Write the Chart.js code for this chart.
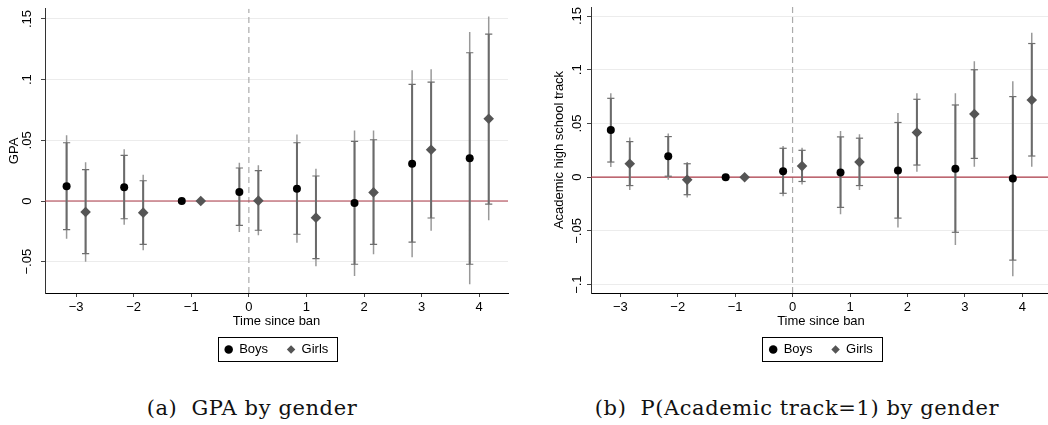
<!DOCTYPE html>
<html>
<head>
<meta charset="utf-8">
<script src="https://cdn.jsdelivr.net/npm/chart.js@4.4.1/dist/chart.umd.min.js"></script>
<style>
  html, body { margin: 0; padding: 0; background: #fff; }
  body { width: 1048px; height: 425px; overflow: hidden; position: relative; }
  canvas { position: absolute; top: 0; }
  #gpaChart { left: 0; }
  #acadChart { left: 524px; }
  .caption {
    position: absolute; top: 394px; line-height: 28px;
    font-family: "DejaVu Serif", "Liberation Serif", serif; font-size: 21px;
    letter-spacing: 0.6px; color: #111; white-space: nowrap; text-align: center;
  }
  .caption .tag { margin-right: 14px; }
</style>
</head>
<body>
<canvas id="gpaChart" width="524" height="366"></canvas>
<canvas id="acadChart" width="540" height="366"></canvas>
<div class="caption" style="left:122px;width:260px"><span class="tag">(a)</span>GPA by gender</div>
<div class="caption" style="left:570px;width:454px"><span class="tag">(b)</span>P(Academic track=1) by gender</div>

<script>
// periods relative to the ban, and the tick labels on both axes
const periods = [-3, -2, -1, 0, 1, 2, 3, 4]
const xTickValues = [-3, -2, -1, 0, 1, 2, 3, 4]
const xTickLabels = ["\u22123", "\u22122", "\u22121", "0", "1", "2", "3", "4"]
const gpaTickValues = [-0.05, 0, 0.05, 0.1, 0.15]
const gpaTickLabels = ["\u2212.05", "0", ".05", ".1", ".15"]
const acadTickValues = [-0.1, -0.05, 0, 0.05, 0.1, 0.15]
const acadTickLabels = ["\u2212.1", "\u2212.05", "0", ".05", ".1", ".15"]

// (a) GPA: point estimates, 90% bounds (with caps) and 95% bounds
const gpaBoys      = [0.0121, 0.0113, 0, 0.0074, 0.0101, -0.0016, 0.0307, 0.0352]
const gpaBoysLo90  = [-0.0236, -0.0146, null, -0.0200, -0.0274, -0.0521, -0.0338, -0.0521]
const gpaBoysHi90  = [0.0480, 0.0376, null, 0.0272, 0.0480, 0.0492, 0.0961, 0.1222]
const gpaBoysLo95  = [-0.0310, -0.0195, null, -0.0255, -0.0343, -0.0618, -0.0464, -0.0686]
const gpaBoysHi95  = [0.0541, 0.0426, null, 0.0316, 0.0549, 0.0582, 0.1077, 0.1392]
const gpaGirls     = [-0.0091, -0.0096, 0, 0.0003, -0.0137, 0.0071, 0.0423, 0.0678]
const gpaGirlsLo90 = [-0.0434, -0.0357, null, -0.0241, -0.0475, -0.0357, -0.0140, -0.0025]
const gpaGirlsHi90 = [0.0258, 0.0167, null, 0.0250, 0.0206, 0.0505, 0.0980, 0.1376]
const gpaGirlsLo95 = [-0.0500, -0.0406, null, -0.0283, -0.0538, -0.0439, -0.0245, -0.0159]
const gpaGirlsHi95 = [0.0320, 0.0217, null, 0.0294, 0.0266, 0.0582, 0.1085, 0.1520]

// (b) academic high school track
const acadBoys      = [0.0438, 0.0194, 0, 0.0056, 0.0044, 0.0063, 0.0078, -0.0012]
const acadBoysLo90  = [0.0141, 0.0009, null, -0.0150, -0.0281, -0.0381, -0.0513, -0.0772]
const acadBoysHi90  = [0.0734, 0.0378, null, 0.0269, 0.0375, 0.0509, 0.0672, 0.0750]
const acadBoysLo95  = [0.0094, -0.0025, null, -0.0178, -0.0344, -0.0469, -0.0631, -0.0922]
const acadBoysHi95  = [0.0781, 0.0406, null, 0.0290, 0.0431, 0.0597, 0.0781, 0.0894]
const acadGirls     = [0.0125, -0.0025, 0, 0.0103, 0.0141, 0.0416, 0.0588, 0.0719]
const acadGirlsLo90 = [-0.0078, -0.0163, null, -0.0040, -0.0078, 0.0113, 0.0175, 0.0197]
const acadGirlsHi90 = [0.0331, 0.0125, null, 0.0250, 0.0363, 0.0725, 0.1000, 0.1244]
const acadGirlsLo95 = [-0.0119, -0.0188, null, -0.0069, -0.0119, 0.0050, 0.0097, 0.0097]
const acadGirlsHi95 = [0.0369, 0.0141, null, 0.0275, 0.0400, 0.0781, 0.1078, 0.1344]

// boys drawn slightly left of the period, girls slightly right
const BOYS_SHIFT = -0.165
const GIRLS_SHIFT = 0.165

const FONT_FAMILY = '"Liberation Sans", Arial, Helvetica, sans-serif'
Chart.defaults.font.family = FONT_FAMILY
Chart.defaults.font.size = 13
Chart.defaults.color = "#000"
const textFont = { family: FONT_FAMILY, size: 13 }

function points(xs, ys) {
  return xs.map((x, i) => (ys[i] == null ? null : { x: x, y: ys[i] })).filter(Boolean)
}

// each interval becomes lo -> hi followed by a gap
function segments(xs, lo, hi) {
  const out = []
  xs.forEach((x, i) => {
    if (lo[i] == null) return
    out.push({ x: x, y: lo[i] }, { x: x, y: hi[i] }, { x: x, y: null })
  })
  return out
}

// draws the black frame round the legend
const legendFrame = {
  id: "legendFrame",
  afterDraw(chart) {
    const boxes = chart.legend && chart.legend.legendHitBoxes
    if (!boxes || !boxes.length) return
    const first = boxes[0]
    const last = boxes[boxes.length - 1]
    const ctx = chart.ctx
    ctx.save()
    ctx.strokeStyle = "#000"
    ctx.lineWidth = 1
    const left = Math.round(first.left - 7) + 0.5
    const right = Math.round(last.left + last.width + 9) + 0.5
    const top = Math.round(first.top - 6) + 0.5
    const bottom = Math.round(first.top + first.height + 5) + 0.5
    ctx.strokeRect(left, top, right - left, bottom - top)
    ctx.restore()
  }
}

function buildPanel(canvasId, s) {
  const bx = periods.map((p) => p + BOYS_SHIFT)
  const gx = periods.map((p) => p + GIRLS_SHIFT)

  const datasets = [
    {
      type: "scatter", label: "Boys", order: 0,
      data: points(bx, s.boys),
      pointStyle: "circle", pointRadius: 4,
      pointBackgroundColor: "#000", pointBorderColor: "#000", pointBorderWidth: 0
    },
    {
      type: "scatter", label: "Girls", order: 0,
      data: points(gx, s.girls),
      pointStyle: "rectRot", pointRadius: 5.3,
      pointBackgroundColor: "#555", pointBorderColor: "#555", pointBorderWidth: 0
    },
    {
      type: "scatter", label: "caps", order: 1,
      data: points(bx, s.boysLo90).concat(points(bx, s.boysHi90), points(gx, s.girlsLo90), points(gx, s.girlsHi90)),
      pointStyle: "line", pointRadius: 3.6,
      pointBorderColor: "#6e6e6e", pointBorderWidth: 1.2
    },
    {
      type: "line", label: "ci90", order: 2,
      data: segments(bx, s.boysLo90, s.boysHi90).concat(segments(gx, s.girlsLo90, s.girlsHi90)),
      borderColor: "#6a6a6a", borderWidth: 2, pointRadius: 0, fill: false, tension: 0
    },
    {
      type: "line", label: "ci95", order: 3,
      data: segments(bx, s.boysLo95, s.boysHi95).concat(segments(gx, s.girlsLo95, s.girlsHi95)),
      borderColor: "#999", borderWidth: 1.5, pointRadius: 0, fill: false, tension: 0
    },
    {
      type: "line", label: "zero", order: 4,
      data: [{ x: s.xMin, y: 0 }, { x: s.xMax, y: 0 }],
      borderColor: "#ad3b48", borderWidth: 1.2, pointRadius: 0, fill: false
    },
    {
      type: "line", label: "ban", order: 5,
      data: [{ x: 0, y: s.yMin }, { x: 0, y: s.yMax }],
      borderColor: "#ababab", borderWidth: 1.2, borderDash: [6, 4], pointRadius: 0, fill: false
    }
  ]

  return new Chart(document.getElementById(canvasId), {
    type: "scatter",
    data: { datasets: datasets },
    plugins: [legendFrame],
    options: {
      responsive: false,
      animation: false,
      devicePixelRatio: 1,
      events: [],
      layout: { padding: { top: 7, left: s.padLeft, right: s.padRight, bottom: 0 } },
      scales: {
        x: {
          type: "linear",
          min: s.xMin,
          max: s.xMax,
          afterBuildTicks: (scale) => { scale.ticks = xTickValues.map((v) => ({ value: v })) },
          afterFit: (scale) => { scale.height = 31 },
          ticks: {
            padding: 3,
            color: "#000",
            font: textFont,
            callback: (value) => xTickLabels[xTickValues.indexOf(value)]
          },
          grid: { drawOnChartArea: false, tickLength: 4, tickColor: "#444", tickWidth: 1 },
          border: { color: "#000", width: 1 },
          title: { display: true, text: "Time since ban", color: "#000", font: textFont, padding: { top: 0, bottom: -4.8 } }
        },
        y: {
          type: "linear",
          min: s.yMin,
          max: s.yMax,
          afterBuildTicks: (scale) => { scale.ticks = s.yTicks.map((v) => ({ value: v })) },
          afterFit: (scale) => { scale.width = s.axisWidth },
          ticks: {
            minRotation: 90,
            maxRotation: 90,
            crossAlign: "center",
            padding: s.tickPad,
            color: "#000",
            font: textFont,
            callback: (value) => s.yLabels[s.yTicks.indexOf(value)]
          },
          grid: { color: "#ececec", lineWidth: 1, tickLength: 4, tickColor: "#444", tickWidth: 1 },
          border: { color: "#333", width: 1 },
          title: { display: true, text: s.yTitle, color: "#000", font: textFont, padding: { top: s.titlePad, bottom: 0 } }
        }
      },
      plugins: {
        legend: {
          position: "bottom",
          fullSize: false,
          labels: {
            usePointStyle: true,
            boxWidth: 8,
            boxHeight: 6,
            padding: 19,
            color: "#000",
            font: textFont,
            filter: (item) => item.text === "Boys" || item.text === "Girls"
          }
        },
        tooltip: { enabled: false }
      }
    }
  })
}

buildPanel("gpaChart", {
  boys: gpaBoys, boysLo90: gpaBoysLo90, boysHi90: gpaBoysHi90, boysLo95: gpaBoysLo95, boysHi95: gpaBoysHi95,
  girls: gpaGirls, girlsLo90: gpaGirlsLo90, girlsHi90: gpaGirlsHi90, girlsLo95: gpaGirlsLo95, girlsHi95: gpaGirlsHi95,
  xMin: -3.54, xMax: 4.5, yMin: -0.0758, yMax: 0.1584,
  yTicks: gpaTickValues, yLabels: gpaTickLabels, yTitle: "GPA",
  padLeft: 0, padRight: 16, axisWidth: 45, tickPad: 1, titlePad: 7
})

buildPanel("acadChart", {
  boys: acadBoys, boysLo90: acadBoysLo90, boysHi90: acadBoysHi90, boysLo95: acadBoysLo95, boysHi95: acadBoysHi95,
  girls: acadGirls, girlsLo90: acadGirlsLo90, girlsHi90: acadGirlsHi90, girlsLo95: acadGirlsLo95, girlsHi95: acadGirlsHi95,
  xMin: -3.51, xMax: 4.5, yMin: -0.1078, yMax: 0.1584,
  yTicks: acadTickValues, yLabels: acadTickLabels, yTitle: "Academic high school track",
  padLeft: 20, padRight: 13, axisWidth: 47, tickPad: -3, titlePad: 7.5
})
</script>
</body>
</html>
